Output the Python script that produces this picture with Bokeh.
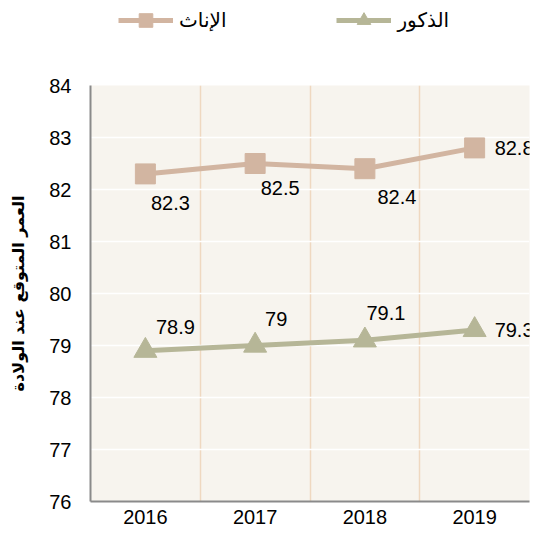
from bokeh.plotting import figure
from bokeh.layouts import column
from bokeh.models import (ColumnDataSource, FixedTicker, Legend, LegendItem, Range1d)
from bokeh.core.properties import value
from bokeh.embed import file_html
from bokeh.resources import INLINE

years = ["2016", "2017", "2018", "2019"]
females = [82.3, 82.5, 82.4, 82.8]
males = [78.9, 79.0, 79.1, 79.3]
female_labels = ["82.3", "82.5", "82.4", "82.8"]
male_labels = ["78.9", "79", "79.1", "79.3"]
y_ticks = [76, 77, 78, 79, 80, 81, 82, 83, 84]
series_names = ["الإناث", "الذكور"]

f_dx = [25, 25, 32, 20]
f_dy = [29, 24, 28, 0]
f_align = ["center", "center", "center", "left"]
m_dx = [30, 21, 21, 20]
m_dy = [-24, -27, -27, 0]
m_align = ["center", "center", "center", "left"]

FEM = "#d2b5a1"
MAL = "#b6b697"
NUMFONT = "Liberation Sans"
ARFONT = "DejaVu Sans"

W = 539
LEG_H = 45
H = 526 - LEG_H
TOP = 85 - LEG_H
BOT = 25

xs = [i + 1 for i in range(len(years))]
src_f = ColumnDataSource(dict(x=xs, y=females, t=female_labels, dx=f_dx, dy=f_dy, al=f_align))
src_m = ColumnDataSource(dict(x=xs, y=males, t=male_labels, dx=m_dx, dy=m_dy, al=m_align))

# ---------- legend strip (its glyphs fall outside its own ranges; only the legend shows) ----------
lg = figure(width=W, height=LEG_H, output_backend="svg", toolbar_location=None,
            x_range=Range1d(-2, -1), y_range=Range1d(-2, -1),
            min_border=0, x_axis_type=None, y_axis_type=None)
lg.grid.visible = False
lg.outline_line_color = None
lg.background_fill_color = "white"
lg.border_fill_color = "white"
glf = lg.line("x", "y", source=src_f, line_color=FEM, line_width=5)
gsf = lg.scatter("x", "y", source=src_f, marker="square", size=20, fill_color=FEM, line_color=FEM)
glm = lg.line("x", "y", source=src_m, line_color=MAL, line_width=5)
gsm = lg.scatter("x", "y", source=src_m, marker="triangle", size=23, fill_color=MAL, line_color=MAL)
legend = Legend(items=[LegendItem(label=series_names[0], renderers=[glf, gsf], index=0),
                       LegendItem(label=series_names[1], renderers=[glm, gsm], index=0)],
                location=(28, 8), orientation="horizontal",
                glyph_width=55, glyph_height=34, label_standoff=6, spacing=110,
                padding=0, margin=0, border_line_color=None, background_fill_alpha=0,
                label_text_font=ARFONT, label_text_font_size="20px", label_text_color="black")
lg.add_layout(legend, "center")

# ---------- main chart ----------
p = figure(width=W, height=H, output_backend="svg", toolbar_location=None,
           x_range=Range1d(0.5, len(years) + 0.5), y_range=Range1d(min(y_ticks), max(y_ticks)),
           min_border_left=90, min_border_right=10, min_border_top=TOP, min_border_bottom=BOT)
p.background_fill_color = "#f7f4ee"
p.border_fill_color = "white"
p.outline_line_color = None

p.line("x", "y", source=src_f, line_color=FEM, line_width=5)
p.scatter("x", "y", source=src_f, marker="square", size=20, fill_color=FEM, line_color=FEM)
p.line("x", "y", source=src_m, line_color=MAL, line_width=5)
p.scatter("x", "y", source=src_m, marker="triangle", size=23, fill_color=MAL, line_color=MAL)

for src in (src_f, src_m):
    p.text("x", "y", text="t", source=src, x_offset="dx", y_offset="dy", text_align="al",
           text_baseline="middle", text_font=value(NUMFONT), text_font_size="20px",
           text_color="black")

p.ygrid.ticker = FixedTicker(ticks=y_ticks)
p.ygrid.grid_line_color = "white"
p.ygrid.grid_line_width = 1.5
p.xgrid.ticker = FixedTicker(ticks=[i + 1.5 for i in range(len(years))])
p.xgrid.grid_line_color = "#efd8c0"
p.xgrid.grid_line_width = 1.5

p.xaxis.ticker = FixedTicker(ticks=xs)
p.xaxis.major_label_overrides = {x: y for x, y in zip(xs, years)}
p.yaxis.ticker = FixedTicker(ticks=y_ticks)
for ax in (p.xaxis, p.yaxis):
    ax.axis_line_color = "#8a8a8a"
    ax.axis_line_width = 2
    ax.major_tick_line_color = None
    ax.minor_tick_line_color = None
    ax.major_label_text_font = NUMFONT
    ax.major_label_text_font_size = "20px"
    ax.major_label_text_color = "black"
p.xaxis.major_label_standoff = 2
p.yaxis.major_label_standoff = 13
p.yaxis.axis_label = "العمر المتوقع عند الولادة"
p.yaxis.axis_label_text_font = ARFONT
p.yaxis.axis_label_text_font_size = "16px"
p.yaxis.axis_label_text_font_style = "bold"
p.yaxis.axis_label_text_color = "black"
p.yaxis.axis_label_standoff = 18

layout = column(lg, p, spacing=0)
open("out.html", "w").write(file_html(layout, INLINE))
